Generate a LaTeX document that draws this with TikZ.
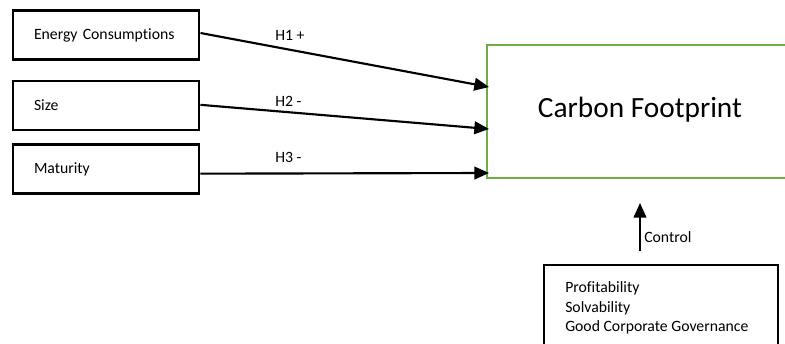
\documentclass[tikz,border=0pt]{standalone}
\usepackage{fontspec}
\setmainfont[Ligatures={NoCommon,NoRare}]{Carlito}
\usetikzlibrary{arrows.meta}
\definecolor{offgreen}{HTML}{70AD47}
\tikzset{
  varbox/.style={draw=black, line width=2.2pt, rectangle, minimum height=36.75pt,
    text width=108pt, inner xsep=15.75pt, align=left, font=\fontsize{11.8}{14}\selectfont},
  hyp/.style={-{Triangle[length=11pt,width=9.5pt]}, line width=1.6pt, black},
  lbl/.style={font=\fontsize{11.8}{14}\selectfont, inner sep=0pt},
}
\begin{document}
\begin{tikzpicture}[x=0.75pt, y=-0.75pt]
\useasboundingbox (0,0) rectangle (785,343);
% left variable boxes
\node[varbox] (e1) at (106,35) {Energy Consumptions};
\node[varbox] (e2) at (106,105.5) {Size};
\node[varbox] (e3) at (106,169) {Maturity};
% carbon footprint box (open to the right)
\coordinate (cfTR) at (786,45);
\coordinate (cfTL) at (487,45);
\coordinate (cfBL) at (487,178);
\coordinate (cfBR) at (786,178);
\draw[offgreen, line width=1.6pt] (cfTR) -- (cfTL) -- (cfBL) -- (cfBR);
\node[font=\fontsize{22}{26}\selectfont] (cf) at (640,110) {Carbon Footprint};
% arrow targets
\coordinate (t1) at (489,87);
\coordinate (t2) at (489,129);
\coordinate (t3) at (489,173);
\draw[hyp] ([yshift=1.5pt]e1.east) -- (t1);
\draw[hyp] ([yshift=0.5pt]e2.east) -- (t2);
\draw[hyp] ([yshift=-3.5pt]e3.east) -- (t3);
\node[lbl, anchor=west] (h1) at (275,35) {H1 +};
\node[lbl, anchor=west] (h2) at (275,101) {H2 -};
\node[lbl, anchor=west] (h3) at (275,157) {H3 -};
% control
\coordinate (cs) at (640,251);
\coordinate (ce) at (640,203);
\draw[hyp] (cs) -- (ce);
\node[lbl, anchor=west] (ctl) at (644,237) {Control};
% control box (open at the bottom)
\coordinate (bBL) at (544,344);
\coordinate (bTL) at (544,265);
\coordinate (bTR) at (778,265);
\coordinate (bBR) at (778,344);
\draw[line width=2.2pt] (bBL) -- (bTL) -- (bTR) -- (bBR);
\node[lbl, anchor=west, align=left, font=\fontsize{11.8}{14.6}\selectfont] (ctext) at (565,308)
  {Profitability\\Solvability\\Good Corporate Governance};
\end{tikzpicture}
\end{document}
